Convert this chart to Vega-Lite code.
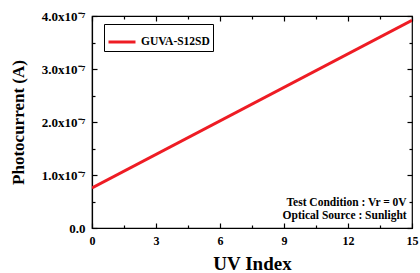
{
  "$schema": "https://vega.github.io/schema/vega-lite/v6.json",
  "width": 320,
  "height": 212,
  "autosize": "none",
  "padding": {"left": 92, "top": 16, "right": 8, "bottom": 45},
  "background": "white",
  "config": {
    "font": "Liberation Serif",
    "view": {"stroke": "black", "strokeWidth": 1.2},
    "axis": {"domainColor": "black", "tickColor": "black", "labelColor": "black", "titleColor": "black", "grid": false,
      "labelFont": "Liberation Serif", "titleFont": "Liberation Serif"},
    "legend": {"labelFont": "Liberation Serif"}
  },
  "resolve": {"axis": {"x": "independent", "y": "independent"}},
  "data": {"values": [
    {"uv": 0, "current": 7.55e-8, "series": "GUVA-S12SD"},
    {"uv": 15, "current": 3.92e-7, "series": "GUVA-S12SD"}
  ]},
  "layer": [
    {
      "mark": {"type": "line", "strokeWidth": 3, "clip": true},
      "encoding": {
        "x": {"field": "uv", "type": "quantitative", "scale": {"domain": [0, 15], "nice": false},
          "axis": {"orient": "bottom", "title": "UV Index", "titleFontSize": 19, "titleFontWeight": "bold", "titlePadding": 8,
            "values": [0, 1.5, 3, 4.5, 6, 7.5, 9, 10.5, 12, 13.5, 15],
            "labelExpr": "datum.value % 3 == 0 ? datum.label : ''",
            "labelFontSize": 12, "labelFontWeight": "bold", "labelPadding": 12,
            "tickSize": {"condition": {"test": "datum.value % 3 != 0", "value": -3}, "value": -5},
            "tickWidth": 1.2, "domainWidth": 1.2, "labelFlush": false}},
        "y": {"field": "current", "type": "quantitative", "scale": {"domain": [0, 4e-7], "nice": false},
          "axis": {"orient": "left", "title": "Photocurrent (A)", "titleFontSize": 17, "titleFontWeight": "bold", "titlePadding": 14,
            "values": [0, 0.5e-7, 1e-7, 1.5e-7, 2e-7, 2.5e-7, 3e-7, 3.5e-7, 4e-7],
            "labelExpr": "datum.value == 0 ? '0.0' : (round(datum.value*1e8) % 10 != 0 ? '' : format(datum.value*1e7, '.1f') + 'x10⁻⁷')",
            "labelFontSize": 13, "labelFontWeight": "bold", "labelPadding": 12,
            "tickSize": {"condition": {"test": "round(datum.value*1e8) % 10 != 0", "value": -3}, "value": -5},
            "tickWidth": 1.2, "domainWidth": 1.2, "labelFlush": false}},
        "color": {"field": "series", "type": "nominal", "scale": {"domain": ["GUVA-S12SD"], "range": ["#ee1c24"]},
          "legend": {"title": null, "orient": "none", "legendX": 12, "legendY": 8, "strokeColor": "black",
            "fillColor": "white", "padding": 3, "symbolType": "stroke", "symbolSize": 729, "symbolStrokeWidth": 3,
            "labelFontSize": 11.5, "labelFontWeight": "bold", "labelFont": "Liberation Serif", "symbolOffset": 0}}
      }
    },
    {
      "mark": {"type": "line", "opacity": 0},
      "encoding": {
        "x": {"field": "uv", "type": "quantitative",
          "axis": {"orient": "top", "title": null, "labels": false, "domain": false,
            "values": [0, 1.5, 3, 4.5, 6, 7.5, 9, 10.5, 12, 13.5, 15],
            "tickSize": {"condition": {"test": "datum.value % 3 != 0", "value": -3}, "value": -5}, "tickWidth": 1.2}},
        "y": {"field": "current", "type": "quantitative",
          "axis": {"orient": "right", "title": null, "labels": false, "domain": false,
            "values": [0, 0.5e-7, 1e-7, 1.5e-7, 2e-7, 2.5e-7, 3e-7, 3.5e-7, 4e-7],
            "tickSize": {"condition": {"test": "round(datum.value*1e8) % 10 != 0", "value": -3}, "value": -5}, "tickWidth": 1.2}}
      }
    },
    {
      "mark": {"type": "text", "align": "right", "baseline": "middle", "fontSize": 11.5, "fontWeight": "bold", "lineHeight": 13, "font": "Liberation Serif"},
      "data": {"values": [{"note": ["Test Condition : Vr = 0V", "Optical Source : Sunlight"]}]},
      "encoding": {
        "text": {"field": "note"},
        "x": {"datum": 14.75, "type": "quantitative", "axis": null},
        "y": {"datum": 4.8e-8, "type": "quantitative", "axis": null}
      }
    }
  ]
}
